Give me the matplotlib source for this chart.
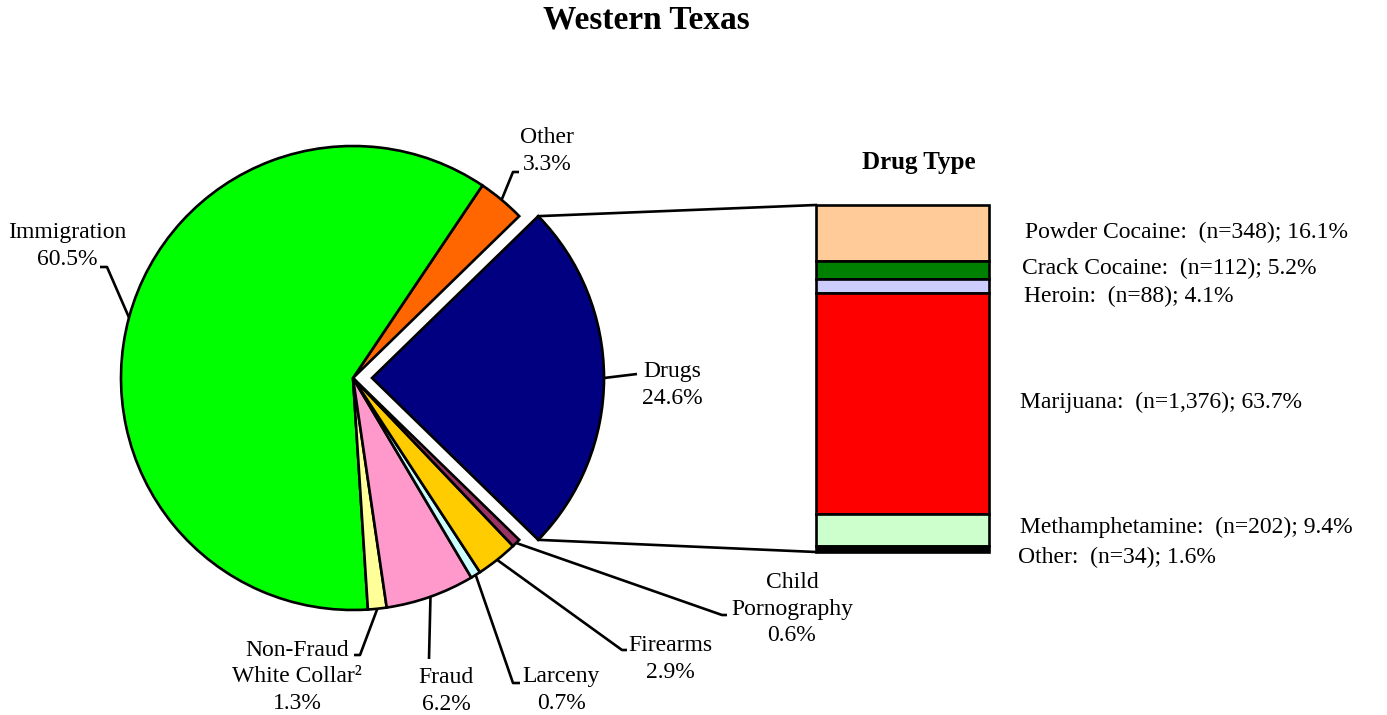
import numpy as np
import matplotlib.pyplot as plt

plt.rcParams['font.family'] = ['Liberation Serif', 'DejaVu Serif']

W, H = 1387, 715

# pie data, counter-clockwise starting with the exploded slice
categories = ["Drugs", "Other", "Immigration", "Non-Fraud\nWhite Collar\u00b2",
              "Fraud", "Larceny", "Firearms", "Child\nPornography"]
shares = [24.6, 3.3, 60.5, 1.3, 6.2, 0.7, 2.9, 0.6]
pie_colors = ["#000080", "#FF6600", "#00FF00", "#FFFF99",
              "#FF99CC", "#CCFFFF", "#FFCC00", "#993366"]

# drug type breakdown, top to bottom
drug_types = ["Powder Cocaine", "Crack Cocaine", "Heroin",
              "Marijuana", "Methamphetamine", "Other"]
drug_counts = ["348", "112", "88", "1,376", "202", "34"]
drug_shares = [16.1, 5.2, 4.1, 63.7, 9.4, 1.6]
drug_colors = ["#FFCC99", "#008000", "#CCCCFF", "#FF0000", "#CCFFCC", "#000000"]

# layout (pixels from top-left)
CX, CY, R = 353, 378, 232
EXPLODE = 19
BAR_X0, BAR_X1, BAR_Y0, BAR_Y1 = 816, 989, 205, 552
FS = 17
LW = 1.9

# elbow x, elbow y, end x, text x, text y
pie_label_pos = [
    (637, 374, 637, 672, 385),
    (513, 172, 519, 547, 151),
    (107, 267, 100, 67, 246),
    (360, 655, 354, 297, 677),
    (429, 659, 429, 446, 691),
    (513, 683, 520, 561, 690),
    (622, 650, 627, 670, 659),
    (722, 615, 727, 792, 609),
]
drug_label_pos = [(1025, 232), (1022, 268), (1024, 296),
                  (1020, 402), (1020, 527), (1018, 557)]


def fy(y):
    return H - y


fig = plt.figure(figsize=(W / 100, H / 100), dpi=100)
ax = fig.add_axes([0, 0, 1, 1])

start = -shares[0] / sum(shares) * 360 / 2
wedges, _ = ax.pie(shares, colors=pie_colors, startangle=start,
                   center=(CX, fy(CY)), radius=R,
                   explode=[EXPLODE] + [0] * (len(shares) - 1),
                   wedgeprops=dict(edgecolor="black", linewidth=LW))
ax.set_xlim(0, W)
ax.set_ylim(0, H)
ax.set_aspect("equal")
ax.axis("off")

# labels with leader lines
for w, name, val, (ex, ey, endx, tx, ty) in zip(wedges, categories, shares, pie_label_pos):
    mid = np.deg2rad((w.theta1 + w.theta2) / 2)
    px = w.center[0] + R * np.cos(mid)
    py = w.center[1] + R * np.sin(mid)
    ax.plot([px, ex, endx], [py, fy(ey), fy(ey)], color="black", lw=LW,
            solid_capstyle="butt", zorder=1)
    ax.text(tx, fy(ty), f"{name}\n{val:.1f}%", ha="center", va="center",
            fontsize=FS, linespacing=1.35)

# stacked bar for drug types
scale = (BAR_Y1 - BAR_Y0) / sum(drug_shares)
top = fy(BAR_Y0)
cum = 0.0
for name, n, val, col, (lx, ly) in zip(drug_types, drug_counts, drug_shares,
                                       drug_colors, drug_label_pos):
    h = val * scale
    ax.bar((BAR_X0 + BAR_X1) / 2, h, width=BAR_X1 - BAR_X0, bottom=top - cum - h,
           color=col, edgecolor="black", linewidth=LW, zorder=2)
    cum += h
    ax.text(lx, fy(ly), f"{name}:  (n={n}); {val:.1f}%", ha="left", va="center",
            fontsize=FS)

# connectors from the exploded slice to the bar
dw = wedges[0]
for ang, by in [(dw.theta2, BAR_Y0), (dw.theta1, BAR_Y1)]:
    a = np.deg2rad(ang)
    ax.plot([dw.center[0] + R * np.cos(a), BAR_X0],
            [dw.center[1] + R * np.sin(a), fy(by)],
            color="black", lw=LW, zorder=1)

ax.text(919, fy(162), "Drug Type", ha="center", va="center",
        fontsize=18, fontweight="bold")
ax.text(646, fy(20), "Western Texas", ha="center", va="center",
        fontsize=24, fontweight="bold")

fig.savefig("out.png", dpi=100)
